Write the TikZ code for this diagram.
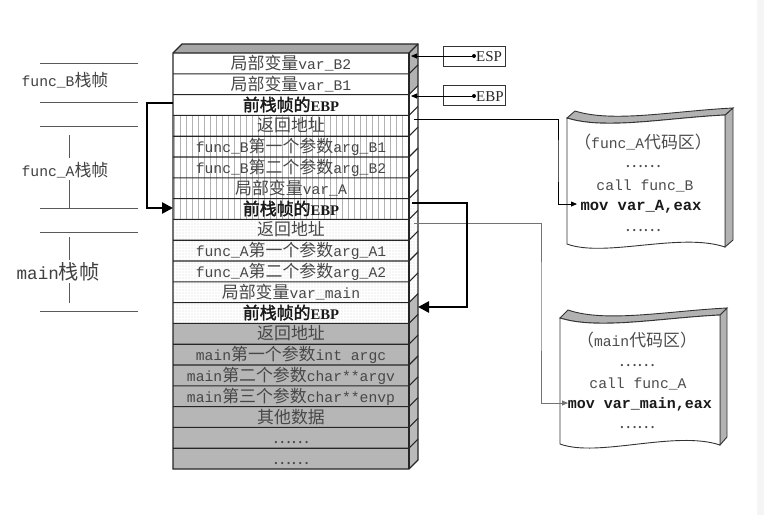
\documentclass[tikz,border=0pt]{standalone}
\usepackage{fontspec}
\setmainfont{Liberation Mono}
\newfontfamily\cjk[Scale=1.15]{Noto Sans CJK SC}
\newfontfamily\cjkb[Scale=1.15,FakeBold=2]{Noto Sans CJK SC}
\newfontfamily\tnr{Liberation Serif}
\usetikzlibrary{patterns.meta,arrows.meta}
\newcommand\zh[1]{{\cjk #1}}
\newcommand\zhb[1]{{\cjkb #1}}
\newcommand\ebpb{{\tnr\bfseries EBP}}
\begin{document}
\begin{tikzpicture}[x=1pt,y=-1pt,
  rowline/.style={draw=black!85,line width=1.1pt},
  rowtxt/.style={text=black!72,inner sep=0pt,anchor=base,font=\fontsize{14.7}{17}\selectfont},
  boldtxt/.style={text=black!90,inner sep=0pt,anchor=base,font=\fontsize{14.7}{17}\selectfont},
  sidelbl/.style={text=black!75,inner sep=0pt,anchor=base,font=\fontsize{14.7}{17}\selectfont},
  codetxt/.style={text=black!70,inner sep=0pt,anchor=base,font=\fontsize{14.7}{17}\selectfont},
  sep/.style={draw=black!65,line width=0.8pt},
  regbox/.style={draw=black!80,line width=0.8pt,minimum width=62pt,minimum height=20pt,inner sep=0pt},
  thinarrow/.style={draw=black,line width=0.8pt,-{Triangle[length=6pt,width=5pt]}},
  grayarrow/.style={draw=black!55,line width=0.9pt,-{Triangle[length=6pt,width=5pt]}},
  thickarrow/.style={draw=black,line width=2.6pt,-{Triangle[length=11pt,width=11pt]}},
  docface/.style={fill=white,draw=black!80,line width=0.9pt},
  docband/.style={fill=black!30,draw=black!80,line width=0.9pt}]
\useasboundingbox (0,0) rectangle (764,515);
\fill[white] (0,0) rectangle (764,515);
\fill[black!4] (757,0) rectangle (764,515);

% ---------- left frame labels ----------
\foreach \yy in {63,102,126,208,232,311} \draw[sep] (40,\yy) -- (138,\yy);
\draw[sep] (69,135) -- (69,158);
\draw[sep] (69,180) -- (69,208);
\draw[sep] (69,237) -- (69,260);
\draw[sep] (69,283) -- (69,303);
\node[sidelbl] (lblB) at (65,86) {func\_B\zh{栈帧}};
\node[sidelbl] (lblA) at (65,176) {func\_A\zh{栈帧}};
\node[sidelbl,font=\fontsize{17.6}{20}\selectfont] (lblM) at (58,279) {main\zh{栈帧}};

% ---------- stack faces ----------
\fill[white] (173,53) rectangle (409,469);
\path[pattern={Lines[angle=90,distance=6pt,line width=0.5pt]},pattern color=black!30] (173,115.4) rectangle (409,219.4);
\path[pattern={Dots[distance=3pt,radius=0.45pt]},pattern color=black!45] (173,219.4) rectangle (409,323.4);
\fill[black!27] (173,323.4) rectangle (409,469);
\path[pattern={Dots[distance=2pt,radius=0.35pt]},pattern color=black!45] (173,323.4) rectangle (409,469);
% top face
\fill[black!35] (173,53) -- (182,44) -- (418,44) -- (409,53) -- cycle;
% side face
\fill[black!30] (409,53) -- (418,44) -- (418,85.6) -- (409,94.6) -- cycle;
\fill[white] (409,94.6) -- (418,85.6) -- (418,189.6) -- (409,198.6) -- cycle;
\path[pattern={Dots[distance=3pt,radius=0.45pt]},pattern color=black!45] (409,198.6) -- (418,189.6) -- (418,293.6) -- (409,302.6) -- cycle;
\fill[black!27] (409,302.6) -- (418,293.6) -- (418,460) -- (409,469) -- cycle;
% lines
\foreach \k in {1,...,19} \draw[rowline] (173,{53+20.8*\k}) -- (409,{53+20.8*\k}) -- (418,{44+20.8*\k});
\draw[rowline] (173,469) -- (173,53) -- (182,44) -- (418,44) -- (418,460) -- (409,469) -- cycle;
\draw[rowline] (173,53) -- (409,53) -- (418,44);
\draw[rowline] (409,53) -- (409,469);

% ---------- row texts ----------
\node[rowtxt] (r1) at (291,69.4) {\zh{局部变量}var\_B2};
\node[rowtxt] (r2) at (291,90.2) {\zh{局部变量}var\_B1};
\node[boldtxt] (r3) at (291,111) {\zhb{前栈帧的}\ebpb};
\node[rowtxt] (r4) at (291,131.8) {\zh{返回地址}};
\node[rowtxt] (r5) at (291,152.6) {func\_B\zh{第一个参数}arg\_B1};
\node[rowtxt] (r6) at (291,173.4) {func\_B\zh{第二个参数}arg\_B2};
\node[rowtxt] (r7) at (291,194.2) {\zh{局部变量}var\_A};
\node[boldtxt] (r8) at (291,215) {\zhb{前栈帧的}\ebpb};
\node[rowtxt] (r9) at (291,235.8) {\zh{返回地址}};
\node[rowtxt] (r10) at (291,256.6) {func\_A\zh{第一个参数}arg\_A1};
\node[rowtxt] (r11) at (291,277.4) {func\_A\zh{第二个参数}arg\_A2};
\node[rowtxt] (r12) at (291,298.2) {\zh{局部变量}var\_main};
\node[boldtxt] (r13) at (291,319) {\zhb{前栈帧的}\ebpb};
\node[rowtxt] (r14) at (291,339.8) {\zh{返回地址}};
\node[rowtxt] (r15) at (291,360.6) {main\zh{第一个参数}int argc};
\node[rowtxt] (r16) at (291,381.4) {main\zh{第二个参数}char**argv};
\node[rowtxt] (r17) at (291,402.2) {main\zh{第三个参数}char**envp};
\node[rowtxt] (r18) at (291,423) {\zh{其他数据}};
\node[rowtxt] (r19) at (291,443.8) {\zh{……}};
\node[rowtxt] (r20) at (291,464.6) {\zh{……}};

% ---------- ESP / EBP registers ----------
\node[regbox] (espbox) at (474,56) {};
\node[regbox] (ebpbox) at (474,95) {};
\node[inner sep=0pt,anchor=base west,text=black!85,font=\tnr\fontsize{15}{17}\selectfont] (esplbl) at (476,61.5) {ESP};
\node[inner sep=0pt,anchor=base west,text=black!85,font=\tnr\fontsize{15}{17}\selectfont] (ebplbl) at (476,101) {EBP};
\coordinate (espdot) at (474,56);
\coordinate (ebpdot) at (474,96);
\coordinate (esptip) at (411,56);
\coordinate (ebptip) at (411,96);
\fill (espdot) circle (2pt);
\fill (ebpdot) circle (2pt);
\draw[thinarrow] (espdot) -- (esptip);
\draw[thinarrow] (ebpdot) -- (ebptip);

% ---------- code areas ----------
% func_A code area
\fill[black!30,draw=black!80,line width=0.9pt] (725,115) -- (733,108) -- (733,240) -- (725,247) -- cycle;
\path[docband] (567,118) .. controls (605,130) and (665,118) .. (725,115) -- (733,108)
  .. controls (673,111) and (613,123) .. (575,111) -- cycle;
\path[docface] (567,118) .. controls (605,130) and (665,118) .. (725,115) -- (725,247)
  .. controls (680,232) and (605,258) .. (567,244) -- cycle;
\node[codetxt] (ca1) at (643,148) {\zh{（}func\_A\zh{代码区）}};
\node[codetxt] (ca2) at (643,167) {\zh{……}};
\node[codetxt] (ca3) at (645,190) {call func\_B};
\node[codetxt,text=black!90,font=\bfseries\fontsize{15.5}{17}\selectfont] (ca4) at (641,210) {mov var\_A,eax};
\node[codetxt] (ca5) at (643,231) {\zh{……}};
% main code area
\fill[black!30,draw=black!80,line width=0.9pt] (720,315) -- (727,308) -- (727,437) -- (720,445) -- cycle;
\path[docband] (560,318) .. controls (598,330) and (660,318) .. (720,315) -- (727,308)
  .. controls (667,311) and (606,323) .. (568,310) -- cycle;
\path[docface] (560,318) .. controls (598,330) and (660,318) .. (720,315) -- (720,445)
  .. controls (675,430) and (598,458) .. (560,444) -- cycle;
\node[codetxt] (cm1) at (637,346) {\zh{（}main\zh{代码区）}};
\node[codetxt] (cm2) at (637,366) {\zh{……}};
\node[codetxt] (cm3) at (638,388) {call func\_A};
\node[codetxt,text=black!90,font=\bfseries\fontsize{15}{17}\selectfont] (cm4) at (640,408) {mov var\_main,eax};
\node[codetxt] (cm5) at (637,428) {\zh{……}};

% ---------- connectors ----------
\coordinate (retB) at (414,119);
\coordinate (bendB) at (558,160);
\coordinate (codeB) at (577,204);
\draw[thinarrow] (retB) -| (bendB) |- (codeB);
\coordinate (retA) at (414,223);
\coordinate (bendA) at (541,300);
\coordinate (codeA) at (568,403);
\draw[grayarrow] (retA) -| (bendA) |- (codeA);
\coordinate (ebpA) at (412,203);
\coordinate (bendR) at (467,250);
\coordinate (ebpM) at (418,307);
\draw[thickarrow] (ebpA) -| (bendR) |- (ebpM);
\coordinate (ebpBl) at (173,103);
\coordinate (bendL) at (147,150);
\coordinate (ebpAl) at (173,208);
\draw[thickarrow] (ebpBl) -| (bendL) |- (ebpAl);
\end{tikzpicture}
\end{document}
